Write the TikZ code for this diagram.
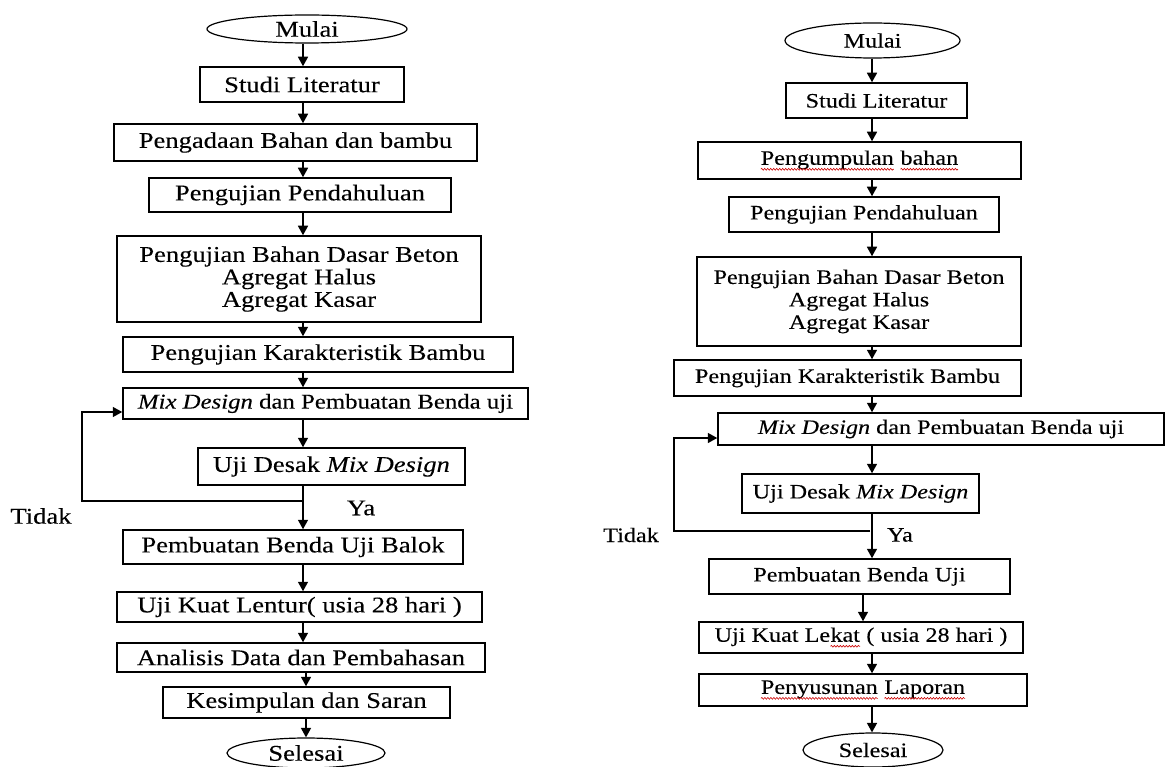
\documentclass[tikz,border=0pt]{standalone}
\usepackage{fontspec}
\setmainfont[FakeStretch=1.18,FakeBold=0.2]{Liberation Serif}
\usetikzlibrary{shapes.geometric,arrows.meta,decorations.pathmorphing}
\newcommand{\wv}[1]{\tikz[baseline=(w.base)]{\node[shape=rectangle,draw=none,inner sep=0pt,outer sep=0pt,minimum width=0pt,minimum height=0pt](w){#1};\draw[red!80!black,line width=0.6pt,decorate,decoration={snake,amplitude=0.9pt,segment length=3pt}]([yshift=-4.5pt]w.base west)--([yshift=-4.5pt]w.base east);}}
\tikzset{
  every node/.style={font=\fontsize{22.5}{22.5}\selectfont},
  box/.style={draw, line width=1.5pt, shape=rectangle, inner sep=0pt, align=center},
  term/.style={draw, line width=1.2pt, shape=ellipse, inner sep=0pt},
  arr/.style={line width=1.5pt, -{Triangle[length=9.5pt,width=10pt]}},
  mixtext/.style={font=\fontsize{21}{22}\selectfont},
  lbl/.style={inner sep=0pt}
}
\begin{document}
\begin{tikzpicture}[x=1pt,y=-1pt]
\useasboundingbox (0,0) rectangle (1166,767);
% ---------- left flowchart ----------
\coordinate (axL) at (303,0);
\coordinate (axL2) at (306,0);
\node[term, minimum width=200pt, minimum height=28pt] (L0) at (307,29) {Mulai};
\node[box, minimum width=204pt, minimum height=35pt] (L1) at (302,84.5) {Studi Literatur};
\node[box, minimum width=363pt, minimum height=37pt] (L2) at (295.5,142.5) {Pengadaan Bahan dan bambu};
\node[box, minimum width=302pt, minimum height=34pt] (L3) at (300,195) {Pengujian Pendahuluan};
\node[box, minimum width=364pt, minimum height=86pt] (L4) at (299,279) {Pengujian Bahan Dasar Beton\\Agregat Halus\\Agregat Kasar};
\node[box, minimum width=390pt, minimum height=35pt] (L5) at (318,354.5) {Pengujian Karakteristik Bambu};
\node[box, mixtext, minimum width=405pt, minimum height=31pt] (L6) at (325.5,403.5) {\textit{Mix Design} dan Pembuatan Benda uji};
\node[box, minimum width=267pt, minimum height=37pt] (L7) at (331.5,466.5) {Uji Desak \textit{Mix Design}};
\node[box, minimum width=340pt, minimum height=34pt] (L8) at (293,547) {Pembuatan Benda Uji Balok};
\node[box, minimum width=365pt, minimum height=30pt] (L9) at (299.5,607) {Uji Kuat Lentur( usia 28 hari )};
\node[box, minimum width=368pt, minimum height=29pt] (L10) at (301,657.5) {Analisis Data dan Pembahasan};
\node[box, minimum width=287pt, minimum height=31pt] (L11) at (306.5,702.5) {Kesimpulan dan Saran};
\node[term, minimum width=158pt, minimum height=30pt] (L12) at (306,753) {Selesai};
\node[lbl] (tL) at (41,516) {Tidak};
\node[lbl] (yL) at (361,508) {Ya};
\coordinate (Lj) at (303,501);
\coordinate (Lc1) at (82,501);
\coordinate (Lc2) at (82,412);
\foreach \a/\b in {L0/L1,L1/L2,L2/L3,L3/L4,L4/L5,L5/L6,L6/L7,L7/L8,L8/L9,L9/L10}
  \draw[arr] (\a.south -| axL) -- (\b.north -| axL);
\draw[arr] (L10.south -| axL2) -- (L11.north -| axL2);
\draw[arr] (L11.south -| axL2) -- (L12.north -| axL2);
\draw[arr] (Lj) -- (Lc1) -- (Lc2) -- (Lc2 -| L6.west);
% ---------- right flowchart ----------
\begin{scope}[every node/.style={font=\fontsize{20.5}{22.5}\selectfont}]
\coordinate (axR) at (872,0);
\coordinate (axR2) at (863,0);
\node[term, minimum width=175pt, minimum height=35pt] (R0) at (872.5,40.5) {Mulai};
\node[box, minimum width=181pt, minimum height=35pt] (R1) at (876.5,100.5) {Studi Literatur};
\node[box, minimum width=323pt, minimum height=37pt] (R2) at (859.5,160.5) {\wv{Pengumpulan} \wv{bahan}};
\node[box, minimum width=270pt, minimum height=35pt] (R3) at (864,214.5) {Pengujian Pendahuluan};
\node[box, minimum width=324pt, minimum height=89pt] (R4) at (859,301.5) {Pengujian Bahan Dasar Beton\\Agregat Halus\\Agregat Kasar};
\node[box, minimum width=347pt, minimum height=36pt] (R5) at (847.5,378) {Pengujian Karakteristik Bambu};
\node[box, minimum width=446pt, minimum height=32pt] (R6) at (941,429) {\textit{Mix Design} dan Pembuatan Benda uji};
\node[box, minimum width=237pt, minimum height=39pt] (R7) at (860.5,493.5) {Uji Desak \textit{Mix Design}};
\node[box, minimum width=301pt, minimum height=35pt] (R8) at (859.5,576.5) {Pembuatan Benda Uji};
\node[box, minimum width=324pt, minimum height=31pt] (R9) at (861,637.5) {Uji Kuat Le\wv{kat} ( usia 28 hari )};
\node[box, minimum width=328pt, minimum height=32pt] (R10) at (863,690) {\wv{Penyusunan} \wv{Laporan}};
\node[term, minimum width=140pt, minimum height=34pt] (R11) at (873,750) {Selesai};
\node[lbl] (tR) at (631,535) {Tidak};
\node[lbl] (yR) at (900,535) {Ya};
\coordinate (Rj) at (870,531);
\coordinate (Rc1) at (674,531);
\coordinate (Rc2) at (674,438);
\foreach \a/\b in {R0/R1,R1/R2,R2/R3,R3/R4,R4/R5,R5/R6,R6/R7,R7/R8,R9/R10,R10/R11}
  \draw[arr] (\a.south -| axR) -- (\b.north -| axR);
\draw[arr] (R8.south -| axR2) -- (R9.north -| axR2);
\draw[arr] (Rj) -- (Rc1) -- (Rc2) -- (Rc2 -| R6.west);
\end{scope}
\end{tikzpicture}
\end{document}
